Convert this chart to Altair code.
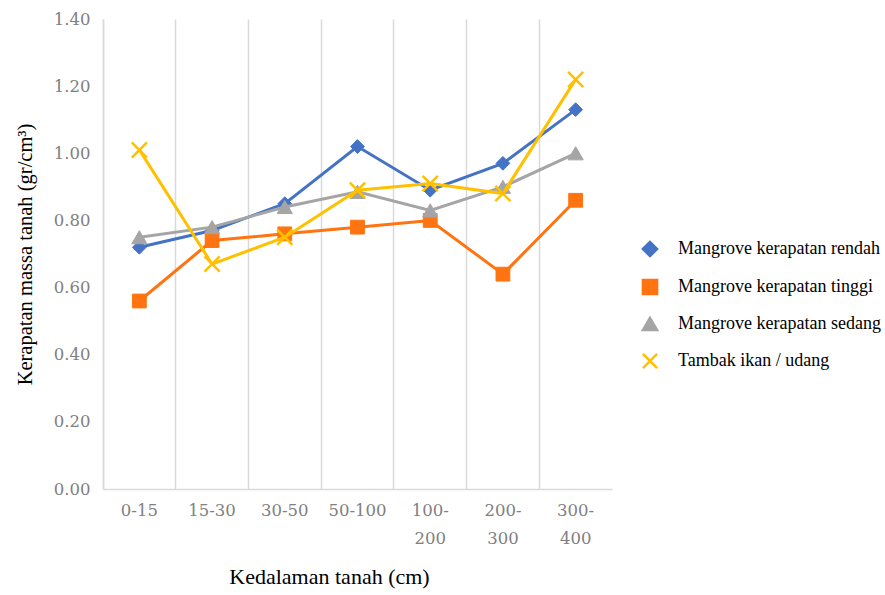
import altair as alt
import pandas as pd

depths = ["0-15", "15-30", "30-50", "50-100", "100-200", "200-300", "300-400"]
series_names = [
    "Mangrove kerapatan rendah",
    "Mangrove kerapatan tinggi",
    "Mangrove kerapatan sedang",
    "Tambak ikan / udang",
]
rendah = [0.72, 0.77, 0.85, 1.02, 0.89, 0.97, 1.13]
tinggi = [0.56, 0.74, 0.76, 0.78, 0.80, 0.64, 0.86]
sedang = [0.75, 0.78, 0.84, 0.885, 0.83, 0.90, 1.00]
tambak = [1.01, 0.67, 0.75, 0.89, 0.91, 0.88, 1.22]
y_ticks = [0.0, 0.2, 0.4, 0.6, 0.8, 1.0, 1.2, 1.4]

colors = ["#4472C4", "#FF7410", "#A5A5A5", "#FFC000"]
shapes = ["diamond", "square", "triangle-up", "M-1,-1L1,1M-1,1L1,-1"]
sizes = [190, 190, 230, 230]

values = [rendah, tinggi, sedang, tambak]
rows = []
for name, vals in zip(series_names, values):
    for d, v in zip(depths, vals):
        rows.append({"depth": d, "series": name, "value": v})
df = pd.DataFrame(rows)

FONT = "Liberation Serif"
TICKFONT = "DejaVu Serif"
W, H = 509, 470

x_enc = alt.X(
    "depth:N",
    sort=depths,
    bandPosition=0.5,
    scale=alt.Scale(type="band", paddingInner=0, paddingOuter=0),
    axis=alt.Axis(
        bandPosition=0,
        grid=True,
        gridColor="#d9d9d9",
        gridWidth=1.5,
        ticks=False,
        domainColor="#d9d9d9",
        domainWidth=1.5,
        labelAngle=0,
        labelAlign="center",
        labelBaseline="top",
        labelPadding=13,
        labelLineHeight=28,
        labelExpr="length(datum.label) > 6 ? [slice(datum.label, 0, 4), slice(datum.label, 4)] : datum.label",
        labelFont=TICKFONT,
        labelFontSize=16.5,
        labelColor="#808080",
        title="Kedalaman tanah (cm)",
        titleFont=FONT,
        titleFontSize=22,
        titleFontWeight="normal",
        titleColor="#000000",
        titlePadding=20,
        titleX=226,
        titleAlign="center",
    ),
)

y_enc = alt.Y(
    "value:Q",
    scale=alt.Scale(domain=[0, 1.4], nice=False),
    axis=alt.Axis(
        values=y_ticks,
        format=".2f",
        grid=False,
        ticks=False,
        domainColor="#d9d9d9",
        domainWidth=1.5,
        labelFont=TICKFONT,
        labelFontSize=16.5,
        labelColor="#808080",
        labelPadding=13,
        title="Kerapatan massa tanah (gr/cm³)",
        titleFont=FONT,
        titleFontSize=20.5,
        titleFontWeight="normal",
        titleColor="#000000",
        titlePadding=18,
    ),
)

color_scale = alt.Scale(domain=series_names, range=colors)
shape_scale = alt.Scale(domain=series_names, range=shapes)
legend = alt.Legend(
    title=None,
    orient="none",
    legendX=538,
    legendY=221,
    labelFont=FONT,
    labelFontSize=18,
    labelColor="#000000",
    labelOffset=19,
    symbolSize=200,
    symbolStrokeWidth=2.5,
    rowPadding=12,
    labelLimit=300,
)

layers = []
for i, name in enumerate(series_names):
    base = alt.Chart(df).transform_filter(alt.datum.series == name)
    line = base.mark_line(color=colors[i], strokeWidth=3).encode(x=x_enc, y=y_enc)
    pts = base.mark_point(filled=True, opacity=1, strokeWidth=2.5 if i == 3 else 1).encode(
        x=x_enc,
        y=y_enc,
        fill=alt.Fill("series:N", scale=color_scale, legend=legend),
        stroke=alt.Stroke("series:N", scale=color_scale, legend=legend),
        shape=alt.Shape("series:N", scale=shape_scale, legend=legend),
        size=alt.value(sizes[i]),
    )
    layers += [line, pts]

chart = (
    alt.layer(*layers)
    .properties(
        width=W,
        height=H,
        padding={"left": 103, "top": 19, "right": 885 - 103 - W, "bottom": 595 - 19 - H},
        autosize="none",
        background="white",
    )
    .configure_view(stroke=None)
)

chart.save("out.html", embed_options={"renderer": "svg", "actions": False})
